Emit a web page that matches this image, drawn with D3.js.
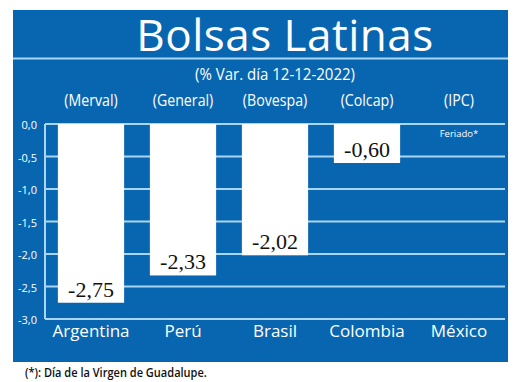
<!DOCTYPE html>
<html>
<head>
<meta charset="utf-8">
<script src="https://cdn.jsdelivr.net/npm/d3@7"></script>
<style>
  body { margin: 0; background: #fff; }
</style>
</head>
<body>
<svg width="520" height="382"></svg>
<script>
const countries = ['Argentina', 'Perú', 'Brasil', 'Colombia', 'México'];
const indices = ['(Merval)', '(General)', '(Bovespa)', '(Colcap)', '(IPC)'];
const values = [-2.75, -2.33, -2.02, -0.60, null];
const yTicks = [0, -0.5, -1, -1.5, -2, -2.5, -3];

const blue = '#0866b1';
const grid = '#a9d6f2';
const sans = '"Open Sans", "Noto Sans", sans-serif';

const svg = d3.select('svg');
const m = { top: 124, right: 15, bottom: 63, left: 45 };
const width = 520 - m.left - m.right;
const height = 382 - m.top - m.bottom;

// panel
svg.append('rect')
  .attr('x', 13).attr('y', 10)
  .attr('width', 495).attr('height', 352)
  .attr('fill', blue);

svg.append('line')
  .attr('x1', 13).attr('x2', 508)
  .attr('y1', 58.5).attr('y2', 58.5)
  .attr('stroke', grid).attr('stroke-width', 2);

svg.append('text')
  .attr('x', 285).attr('y', 51)
  .attr('text-anchor', 'middle')
  .attr('fill', '#fff')
  .attr('font-family', sans)
  .attr('font-size', 44)
  .attr('letter-spacing', 0.5)
  .text('Bolsas Latinas');

svg.append('text')
  .attr('transform', 'translate(275, 80) scale(0.97, 1)')
  .attr('text-anchor', 'middle')
  .attr('fill', '#fff')
  .attr('font-family', sans)
  .attr('font-size', 15.5)
  .text('(% Var. día 12-12-2022)');

const g = svg.append('g').attr('transform', `translate(${m.left}, ${m.top})`);

const x = d3.scaleBand()
  .domain(countries)
  .range([0, width])
  .paddingInner(0.28)
  .paddingOuter(0.14);

const y = d3.scaleLinear()
  .domain([0, -3])
  .range([0, height]);

// gridlines
g.append('g')
  .selectAll('line')
  .data(yTicks.slice(0, -1))
  .join('line')
  .attr('x1', 0).attr('x2', width)
  .attr('y1', d => y(d)).attr('y2', d => y(d))
  .attr('stroke', grid)
  .attr('stroke-width', 2);

// y axis labels
const yAxis = g.append('g')
  .call(d3.axisLeft(y).tickValues(yTicks).tickSize(0).tickPadding(8)
    .tickFormat(d => d3.format('.1f')(d).replace('.', ',').replace('−', '-')));
yAxis.select('.domain').remove();
yAxis.selectAll('text')
  .attr('fill', '#fff')
  .attr('font-family', sans)
  .attr('font-size', 11)
  .attr('dy', '0.45em');

// axis lines
g.append('line')
  .attr('x1', 0).attr('x2', 0)
  .attr('y1', 0).attr('y2', height)
  .attr('stroke', grid).attr('stroke-width', 2);
g.append('line')
  .attr('x1', 0).attr('x2', width)
  .attr('y1', height).attr('y2', height)
  .attr('stroke', grid).attr('stroke-width', 2);

const data = countries.map((c, i) => ({ c, idx: indices[i], v: values[i] }));

// bars
g.selectAll('.bar')
  .data(data.filter(d => d.v !== null))
  .join('rect')
  .attr('class', 'bar')
  .attr('x', d => x(d.c))
  .attr('y', y(0))
  .attr('width', x.bandwidth())
  .attr('height', d => y(d.v) - y(0))
  .attr('fill', '#fff');

g.selectAll('.val')
  .data(data.filter(d => d.v !== null))
  .join('text')
  .attr('class', 'val')
  .attr('x', d => x(d.c) + x.bandwidth() / 2)
  .attr('y', d => y(d.v) - 6)
  .attr('text-anchor', 'middle')
  .attr('fill', '#111')
  .attr('font-family', '"Liberation Serif", serif')
  .attr('font-size', 22)
  .text(d => d3.format('.2f')(d.v).replace('.', ',').replace('−', '-'));

g.selectAll('.feriado')
  .data(data.filter(d => d.v === null))
  .join('text')
  .attr('class', 'feriado')
  .attr('x', d => x(d.c) + x.bandwidth() / 2)
  .attr('y', 13)
  .attr('text-anchor', 'middle')
  .attr('fill', '#fff')
  .attr('font-family', sans)
  .attr('font-size', 9.5)
  .text('Feriado*');

// index labels above (condensed look)
g.selectAll('.idx')
  .data(data)
  .join('text')
  .attr('class', 'idx')
  .attr('transform', d => `translate(${x(d.c) + x.bandwidth() / 2}, -18) scale(0.86, 1)`)
  .attr('text-anchor', 'middle')
  .attr('fill', '#fff')
  .attr('font-family', sans)
  .attr('font-size', 16.5)
  .text(d => d.idx);

// country labels
g.selectAll('.cty')
  .data(data)
  .join('text')
  .attr('class', 'cty')
  .attr('x', d => x(d.c) + x.bandwidth() / 2)
  .attr('y', height + 18)
  .attr('text-anchor', 'middle')
  .attr('fill', '#fff')
  .attr('font-family', sans)
  .attr('font-size', 17)
  .text(d => d.c);

svg.append('text')
  .attr('transform', 'translate(25, 377) scale(0.92, 1)')
  .attr('fill', '#111')
  .attr('font-family', sans)
  .attr('font-size', 12)
  .attr('font-weight', 600)
  .text('(*):  Día de la Virgen de Guadalupe.');
</script>
</body>
</html>
